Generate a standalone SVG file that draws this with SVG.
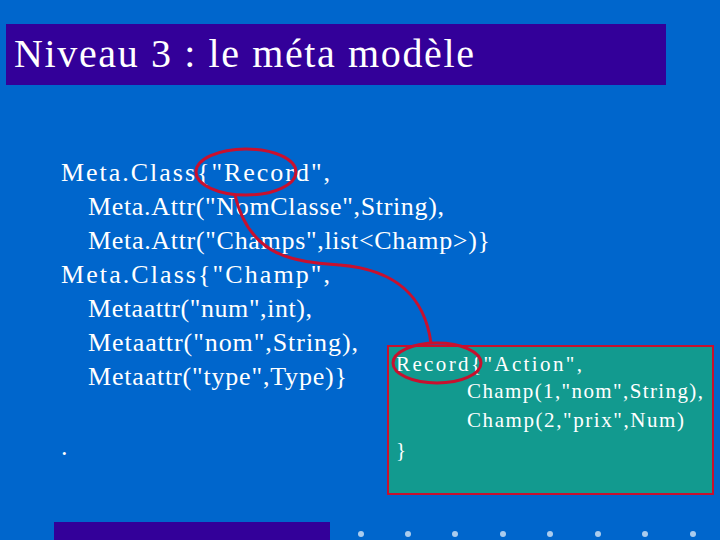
<svg xmlns="http://www.w3.org/2000/svg" width="720" height="540" viewBox="0 0 720 540">
<style>
.t{font-family:"Liberation Serif",serif;fill:#fff}
.b{font-size:26px}
.s{font-size:21px}
.e{fill:none;stroke:#c8102e;stroke-width:3}
</style>
<rect width="720" height="540" fill="#0066cc"/>
<g id="title"><rect x="6" y="24" width="660" height="61" fill="#330099"/>
<text class="t" x="14" y="67" font-size="40" textLength="460" lengthAdjust="spacing">Niveau 3 : le méta modèle</text></g>
<g id="meta" class="t b">
<text x="61" y="181" textLength="269" lengthAdjust="spacing">Meta.Class{"Record",</text>
<text x="88" y="215" textLength="356" lengthAdjust="spacing">Meta.Attr("NomClasse",String),</text>
<text x="88" y="249" textLength="402" lengthAdjust="spacing">Meta.Attr("Champs",list&lt;Champ&gt;)}</text>
<text x="61" y="283" textLength="269" lengthAdjust="spacing">Meta.Class{"Champ",</text>
<text x="88" y="317" textLength="224" lengthAdjust="spacing">Metaattr("num",int),</text>
<text x="88" y="351" textLength="270" lengthAdjust="spacing">Metaattr("nom",String),</text>
<text x="88" y="385" textLength="259" lengthAdjust="spacing">Metaattr("type",Type)}</text>
<text x="61" y="455">.</text>
</g>
<g id="record"><rect x="388" y="346" width="325" height="148" fill="#129a8f" stroke="#c8102e" stroke-width="2"/>
<g class="t s">
<text x="396" y="371" textLength="186" lengthAdjust="spacing">Record{"Action",</text>
<text x="467" y="398" textLength="236" lengthAdjust="spacing">Champ(1,"nom",String),</text>
<text x="467" y="427" textLength="217" lengthAdjust="spacing">Champ(2,"prix",Num)</text>
<text x="396" y="457">}</text></g></g>
<g id="connectors">
<ellipse class="e" cx="246" cy="172" rx="50" ry="23"/>
<ellipse class="e" cx="437" cy="363" rx="44" ry="20"/>
<path class="e" d="M235,195 C250,260 300,262 340,265 C400,270 425,300 431,343"/>
</g>
<rect x="54" y="522" width="276" height="18" fill="#330099"/>
<g fill="#aaccee">
<circle cx="361" cy="534" r="3"/><circle cx="408" cy="534" r="3"/><circle cx="455" cy="534" r="3"/><circle cx="503" cy="534" r="3"/><circle cx="550" cy="534" r="3"/><circle cx="598" cy="534" r="3"/><circle cx="645" cy="534" r="3"/><circle cx="693" cy="534" r="3"/>
</g>
</svg>
